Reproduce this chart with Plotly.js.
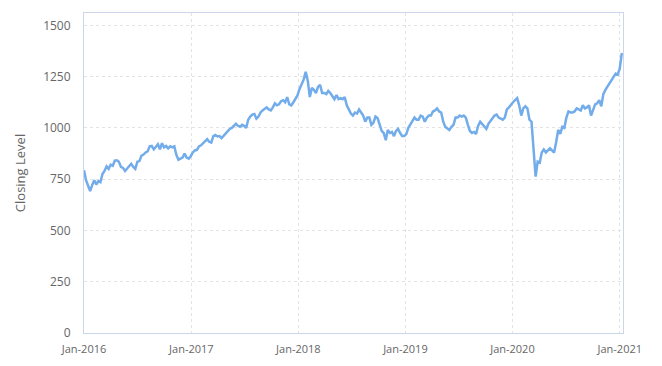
<!DOCTYPE html>
<html>
<head>
<meta charset="utf-8">
<script src="https://cdn.plot.ly/plotly-3.0.1.min.js"></script>
<style>html,body{margin:0;padding:0;background:#fff;}#chart{width:662px;height:366px;}</style>
</head>
<body>
<div id="chart"></div>
<script>
// Weekly closing levels (Fridays), starting 2016-01-01
const startDate = '2016-01-01';
const weekMs = 7 * 24 * 3600 * 1000;
const values2016 = [794,745,718,692,722,745,724,740,735,775,790,812,800,820,815,840,842,835,810,805,790,800,815,825,810,800,835,838,865,870,880,885,910,912,895,905,920,895,925,905,912,900,910,905,910,868,845,850,855,875,855,850,862];
const values2017 = [880,890,893,910,915,925,935,945,932,928,960,965,958,960,950,962,975,985,995,1000,1010,1020,1010,1005,1015,1010,1000,1040,1055,1065,1068,1045,1055,1075,1085,1095,1100,1090,1085,1100,1120,1110,1115,1130,1135,1125,1150,1115,1110,1125,1140,1158];
const values2018 = [1190,1210,1235,1273,1230,1150,1195,1185,1170,1200,1210,1170,1170,1165,1180,1170,1155,1140,1160,1140,1145,1140,1150,1110,1090,1070,1060,1075,1070,1090,1075,1060,1030,1050,1050,1015,1025,1055,1048,1020,985,975,940,990,975,980,960,985,995,975,960,960];
const values2019 = [970,1000,1015,1030,1050,1040,1040,1060,1055,1030,1050,1060,1060,1080,1085,1095,1080,1075,1030,1005,995,990,1005,1015,1050,1050,1060,1055,1060,1050,1015,985,975,980,970,1010,1030,1020,1005,995,1020,1035,1050,1060,1065,1050,1045,1040,1050,1090,1100,1115];
const values2020 = [1125,1135,1145,1110,1060,1095,1105,1095,1040,1030,900,762,835,830,880,895,880,890,900,890,880,930,990,970,1005,1000,1050,1080,1075,1075,1080,1095,1090,1085,1110,1095,1100,1110,1060,1085,1115,1120,1135,1105,1165,1185,1200,1215,1235,1250,1265,1260];
const values2021 = [1290,1365];
const closing = [].concat(values2016, values2017, values2018, values2019, values2020, values2021);
const xTicks = ['2016-01-01','2017-01-01','2018-01-01','2019-01-01','2020-01-01','2021-01-01'];
const xTickText = ['Jan-2016','Jan-2017','Jan-2018','Jan-2019','Jan-2020','Jan-2021'];
const yTicks = [0,250,500,750,1000,1250,1500];

const trace = {
  type: 'scatter', mode: 'lines',
  x0: startDate, dx: weekMs,
  y: closing,
  line: {color: '#72acea', width: 2.5},
  hoverinfo: 'skip'
};
const layout = {
  width: 662, height: 366,
  margin: {l: 84, r: 39, t: 13, b: 33},
  paper_bgcolor: '#fff', plot_bgcolor: '#fff',
  font: {family: 'Open Sans, sans-serif', color: '#666', size: 11},
  showlegend: false,
  xaxis: {
    type: 'date', range: ['2016-01-01', '2021-01-12'],
    tickvals: xTicks, ticktext: xTickText,
    showgrid: true, gridcolor: '#e3e3e3', griddash: 'dot',
    showline: true, linecolor: '#ccd6eb', linewidth: 1, mirror: true,
    zeroline: false, ticks: '', ticklabelstandoff: 6,
    tickfont: {size: 11, color: '#666'}
  },
  yaxis: {
    range: [0, 1560], tickvals: yTicks,
    showgrid: true, gridcolor: '#e3e3e3', griddash: 'dot',
    showline: true, linecolor: '#ccd6eb', linewidth: 1, mirror: true,
    zeroline: false, ticks: '', ticklabelstandoff: 10,
    tickfont: {size: 12, color: '#666'},
    title: {text: 'Closing Level', font: {size: 13, color: '#666'}, standoff: 14}
  }
};
Plotly.newPlot('chart', [trace], layout, {displayModeBar: false, staticPlot: true});
</script>
</body>
</html>
